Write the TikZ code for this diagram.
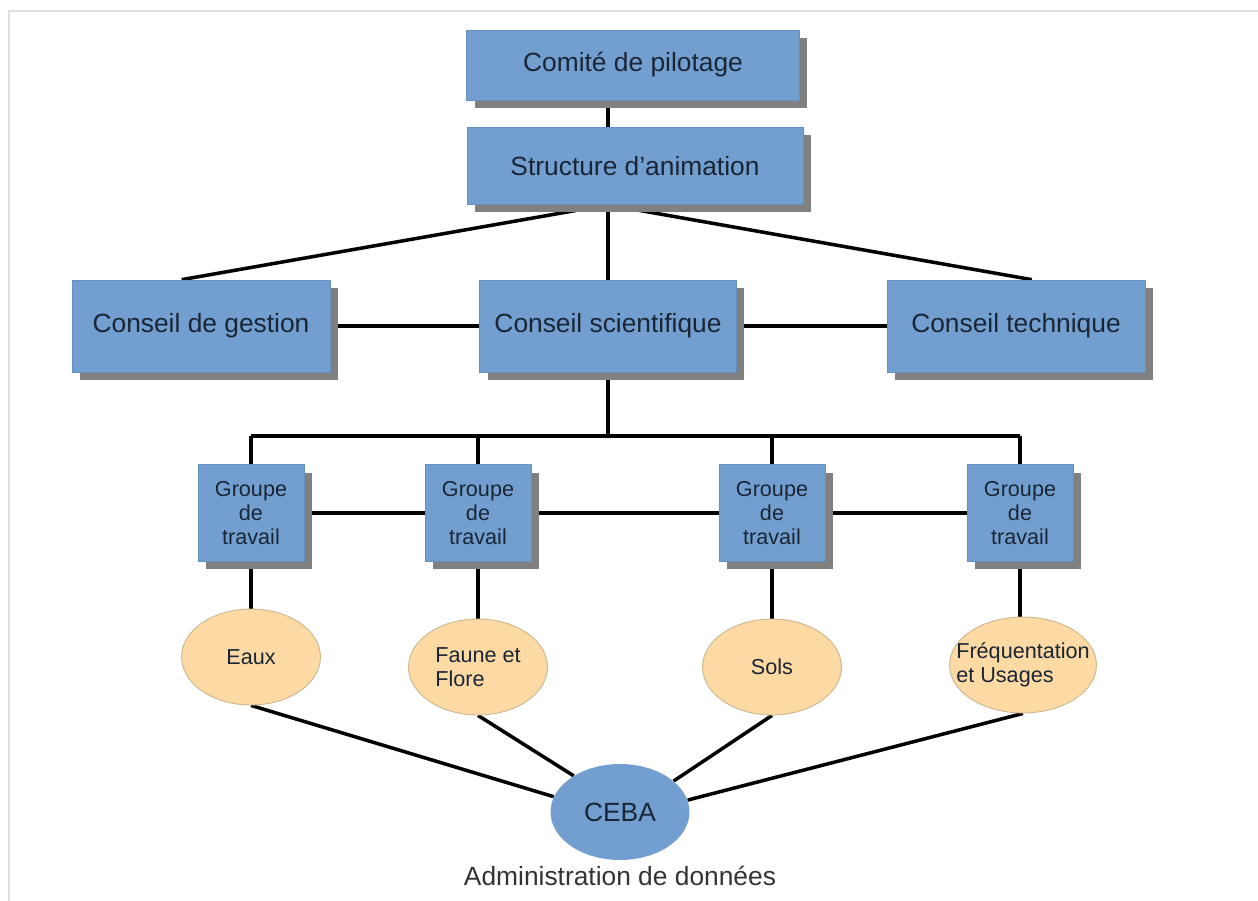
\documentclass[tikz,border=0pt]{standalone}
\usepackage{fontspec}
\setmainfont{Liberation Sans}
\usetikzlibrary{shapes.geometric,shadows,backgrounds}

\definecolor{boxblue}{HTML}{729FCF}
\definecolor{boxline}{HTML}{6590C2}
\definecolor{themefill}{HTML}{FDD9A4}
\definecolor{themeline}{HTML}{C9B58F}
\definecolor{labeltext}{HTML}{1A2535}
\definecolor{boxshadow}{HTML}{808080}

\tikzset{
	orgbox/.style = {rectangle, fill=boxblue, draw=boxline, line width=0.4pt,
		text=labeltext, font=\fontsize{15}{18}\selectfont, inner sep=0pt,
		drop shadow={shadow xshift=0.16cm, shadow yshift=-0.16cm, fill=boxshadow, opacity=1}},
	groupbox/.style = {orgbox, minimum width=2.12cm, minimum height=1.94cm,
		align=center, font=\fontsize{12.3}{13.8}\selectfont},
	theme/.style = {ellipse, fill=themefill, draw=themeline, line width=0.5pt,
		text=labeltext, inner sep=0pt, minimum width=2.78cm, minimum height=1.92cm,
		font=\fontsize{12.3}{13.8}\selectfont},
	themetext/.style = {align=left, text=labeltext, font=\fontsize{12.3}{13.8}\selectfont},
	link/.style = {line width=2pt, black}
}

\begin{document}
\begin{tikzpicture}[x=0.02cm, y=-0.02cm]
	\useasboundingbox (0,0) rectangle (1258,901);
	% frame
	\draw[black!12, line width=1.2pt] (9,901) -- (9,11) -- (1258,11);

	\node[orgbox, minimum width=6.66cm, minimum height=1.40cm] (comite) at (633,65) {Comité de pilotage};
	\node[orgbox, minimum width=6.72cm, minimum height=1.54cm] (struct) at (635,166) {Structure d’animation};

	\node[orgbox, minimum width=5.16cm, minimum height=1.84cm] (gestion) at (201,326) {Conseil de gestion};
	\node[orgbox, minimum width=5.14cm, minimum height=1.84cm] (scien) at (608,326) {Conseil scientifique};
	\node[orgbox, minimum width=5.16cm, minimum height=1.84cm] (techn) at (1016,326) {Conseil technique};

	\coordinate (bus) at (608,436);

	\node[groupbox] (gt1) at (251,513) {Groupe\\de\\travail};
	\node[groupbox] (gt2) at (478,513) {Groupe\\de\\travail};
	\node[groupbox] (gt3) at (772,513) {Groupe\\de\\travail};
	\node[groupbox] (gt4) at (1020,513) {Groupe\\de\\travail};

	\node[theme] (eaux) at (251,657) {Eaux};
	\node[theme, label={[themetext]center:Faune et\\Flore}] (faune) at (478,667) {};
	\node[theme] (sols) at (772,667) {Sols};
	\node[theme, minimum width=2.94cm, label={[themetext]center:Fréquentation\\et Usages}] (frequ) at (1023,665) {};

	\node[ellipse, fill=boxblue, text=labeltext, inner sep=0pt, minimum width=2.78cm,
		minimum height=1.92cm, font=\fontsize{15}{18}\selectfont] (ceba) at (620,812) {CEBA};
	\node[text=black!80, font=\fontsize{15}{18}\selectfont, anchor=north] (admin) at (ceba.south) {Administration de données};

	\begin{scope}[on background layer]
		\draw[link] (comite.south -| scien) -- (struct.north -| scien);
		\draw[link] (struct.south -| scien) -- (scien.north);
		\draw[link] (struct.south -| scien) -- ([xshift=-11]gestion.north);
		\draw[link] (struct.south -| scien) -- ([xshift=9]techn.north);
		\draw[link] (gestion) -- (scien);
		\draw[link] (scien) -- (techn);

		\draw[link] (scien.south) -- (bus);
		\draw[link] (gt1.north |- bus) -- (gt4.north |- bus);
		\foreach \g in {gt1,gt2,gt3,gt4}
			\draw[link] (\g.north |- bus) -- (\g.north);
		\draw[link] (gt1) -- (gt2) -- (gt3) -- (gt4);

		\draw[link] (gt1.south) -- (gt1.south |- eaux.north);
		\draw[link] (gt2.south) -- (gt2.south |- faune.north);
		\draw[link] (gt3.south) -- (gt3.south |- sols.north);
		\draw[link] (gt4.south) -- (gt4.south |- frequ.north);

		\draw[link] (eaux.south) -- (ceba.167);
		\draw[link] (faune.south) -- (ceba.142);
		\draw[link] (sols.south) -- (ceba.30);
		\draw[link] (frequ.south) -- (ceba.10);
	\end{scope}
\end{tikzpicture}
\end{document}
